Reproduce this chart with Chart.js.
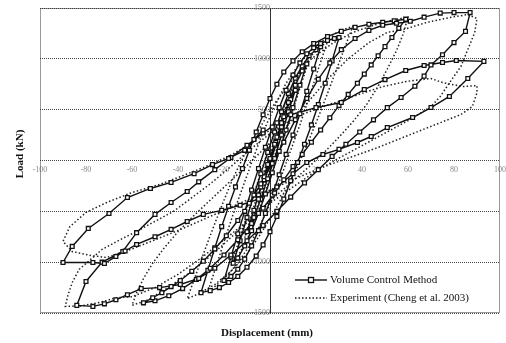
<!DOCTYPE html>
<html>
<head>
<meta charset="utf-8">
<script src="https://cdn.jsdelivr.net/npm/chart.js@4.4.1/dist/chart.umd.min.js"></script>
<style>
  html, body { margin: 0; padding: 0; background: #fff; }
</style>
</head>
<body>
<canvas id="myCanvas" width="506" height="343"></canvas>
<script>
// hysteresis path of the numerical model (Volume Control Method), mm / kN
const vcmDisp = [
  0, 2.5, 5, 2.5, 0, -2.5, -5, -2.5, 0,
  3, 6, 9, 11, 8, 5, 2, -1, -4, -7, -10, -7, -4, -1,
  2, 5, 8, 11, 14, 16, 13, 10, 7, 4, 1, -2, -5, -8, -11, -14, -16, -13, -10, -7, -4,
  -1, 2, 5, 8, 11, 14, 17, 20, 22, 19, 16, 13, 10, 7, 4, 1, -2, -5, -8, -11, -14, -17, -20, -17, -14, -11, -8, -5,
  -2, 1, 4, 7, 10, 13, 16, 19, 22, 25, 28, 30, 27, 24, 21, 18, 15, 12, 9, 6, 3, 0, -3, -6, -10, -14, -18, -22, -26, -30, -27, -24, -21, -18, -15, -12,
  -9, -6, -3, 0, 3, 6, 10, 14, 19, 25, 31, 37, 43, 49, 54, 59,
  56, 53, 50, 47, 44, 41, 38, 34, 30, 26, 22, 18, 14, 10, 6, 2, -3, -8, -14, -20, -26, -32, -38, -44, -50, -55,
  -51, -47, -43, -39, -34, -29, -24, -19, -14, -9, -4, 1, 6, 11, 16, 21, 26, 31, 37, 43, 49, 55, 61, 67, 74, 80, 87,
  85, 80, 75, 70, 67, 63, 57, 51, 45, 39, 33, 27, 21, 15, 9, 3, -3, -10, -17, -24, -31, -39, -48, -56, -62, -67, -72, -77, -84,
  -80, -73, -64, -58, -50, -43, -36, -31, -24, -17, -10, -3, 3, 9, 20, 31, 41, 50, 59, 67, 75, 81, 93,
  86, 78, 70, 62, 51, 44, 38, 30, 23, 16, 10, 3, -5, -13, -21, -29, -36, -43, -50, -58, -63, -67, -72, -77, -90,
  -86, -79, -70, -62, -52, -43, -33, -25, -18, -11, -7, -3
];
const vcmLoad = [
  0, 180, 330, 150, -30, -190, -340, -160, 20,
  230, 430, 600, 690, 480, 250, 20, -180, -380, -560, -700, -490, -260, -40,
  160, 370, 570, 740, 880, 950, 740, 520, 300, 90, -120, -330, -520, -690, -840, -960, -1010, -790, -560, -340, -130,
  80, 280, 480, 660, 810, 930, 1030, 1090, 1120, 900, 680, 460, 250, 60, -140, -340, -520, -690, -840, -970, -1070, -1140, -1180, -950, -720, -500, -290, -80,
  130, 330, 520, 690, 840, 960, 1050, 1110, 1150, 1180, 1200, 1210, 980, 760, 550, 350, 160, -20, -200, -380, -550, -700, -830, -940, -1050, -1140, -1200, -1250, -1280, -1300, -1080, -860, -650, -450, -260, -80,
  100, 280, 450, 610, 750, 870, 980, 1070, 1150, 1220, 1270, 1310, 1340, 1360, 1375, 1390,
  1300, 1210, 1120, 1030, 940, 850, 760, 650, 540, 420, 300, 180, 60, -60, -190, -320, -470, -620, -780, -930, -1060, -1170, -1260, -1330, -1380, -1400,
  -1350, -1300, -1240, -1180, -1090, -990, -870, -740, -590, -420, -230, -30, 180, 400, 610, 800, 960, 1090, 1200, 1280, 1330, 1350, 1370, 1410, 1450, 1455, 1455,
  1270, 1160, 1040, 940, 830, 730, 620, 520, 400, 280, 160, 40, -90, -220, -360, -500, -640, -790, -930, -1060, -1160, -1220, -1250, -1260, -1320, -1370, -1410, -1435, -1425,
  -1190, -1000, -895, -710, -530, -413, -305, -210, -90, 30, 150, 270, 370, 450, 520, 570, 698, 796, 885, 934, 964, 983, 975,
  806, 630, 521, 423, 324, 236, 177, 110, 59, -20, -130, -260, -380, -440, -490, -530, -600, -678, -750, -826, -890, -944, -1013, -1003, -1003,
  -845, -668, -521, -364, -275, -216, -130, -40, 20, 100, 206, 300
];

// test curve (Cheng et al. 2003)
const expDisp = [
  0, 3, 6, 3, 0, -3, -6, -3, 0,
  3, 7, 11, 8, 5, 2, -2, -6, -11, -8, -5, -2,
  2, 6, 10, 14, 17, 14, 10, 6, 2, -2, -6, -10, -14, -17, -14, -10, -6, -2,
  2, 7, 12, 17, 22, 25, 21, 17, 13, 9, 5, 1, -4, -9, -14, -19, -24, -27, -23, -19, -15, -11,
  -7, -3, 2, 7, 13, 19, 25, 31, 36, 32, 28, 24, 20, 16, 12, 7, 2, -4, -10, -17, -24, -31, -36, -32, -28, -24, -20, -16,
  -11, -5, 2, 10, 18, 27, 36, 45, 53, 60, 58, 55, 51, 47, 42, 36, 30, 24, 17, 9, 0, -9, -18, -27, -36, -45, -53, -60,
  -58, -55, -51, -46, -40, -33, -26, -18, -10,
  -2, 7, 16, 25, 34, 43, 51, 58, 68, 78, 86, 90, 89, 86, 83, 79, 74, 70, 63, 55, 46, 37, 28, 19, 10, 0, -10, -20, -30, -40, -50, -60, -67, -74, -82, -89,
  -88, -86, -83, -78, -73, -65, -58, -51, -42, -35, -26, -17, -8, 2, 12, 22, 32, 49, 60, 70, 75, 84, 90,
  90, 88, 83, 75, 66, 56, 46, 36, 26, 16, 6, -5, -16, -27, -38, -50, -60, -71, -78, -86, -90,
  -87, -80, -71, -60, -48, -38, -28, -18, -8, 0
];
const expLoad = [
  0, 220, 400, 190, -20, -230, -400, -170, 40,
  260, 520, 740, 520, 280, 40, -220, -480, -760, -530, -300, -60,
  200, 480, 720, 900, 990, 780, 500, 220, -50, -300, -560, -780, -940, -1040, -820, -540, -260, 20,
  290, 580, 830, 1010, 1120, 1170, 900, 620, 350, 100, -150, -380, -620, -840, -1010, -1140, -1240, -1290, -1010, -730, -460, -210,
  40, 280, 530, 760, 960, 1110, 1210, 1280, 1320, 1080, 840, 600, 370, 150, -60, -280, -500, -720, -920, -1090, -1220, -1310, -1360, -1110, -860, -620, -390, -170,
  60, 300, 560, 800, 1000, 1150, 1260, 1330, 1380, 1410, 1250, 1080, 900, 730, 550, 380, 230, 90, -60, -220, -400, -590, -780, -960, -1120, -1260, -1370, -1425,
  -1300, -1160, -1010, -860, -700, -540, -390, -220, -50,
  130, 330, 560, 800, 1000, 1160, 1260, 1288, 1357, 1406, 1436, 1396, 1258, 1091, 924, 796, 630, 531, 430, 330, 220, 110, 0, -120, -260, -420, -600, -780, -960, -1120, -1250, -1340, -1350, -1396, -1430, -1435,
  -1337, -1200, -1072, -973, -875, -777, -698, -610, -501, -383, -230, -60, 120, 300, 440, 520, 600, 727, 780, 806, 767, 727, 737,
  668, 531, 452, 380, 300, 210, 120, 40, -40, -130, -230, -340, -450, -560, -670, -780, -870, -954, -934, -895, -796,
  -650, -511, -413, -315, -236, -150, -60, 40, 170, 300
];

const xTicks = [-100, -80, -60, -40, -20, 0, 20, 40, 60, 80, 100];
const yTicks = [-1500, -1000, -500, 0, 500, 1000, 1500];

const seriesNames = ['Volume Control Method', 'Experiment (Cheng et al. 2003)'];
const xTitle = 'Displacement (mm)';
const yTitle = 'Load (kN)';

const toPoints = (xs, ys) => xs.map((x, i) => ({ x: x, y: ys[i] }));

// frame, axis titles and the legend in the lower right corner
const extras = {
  id: 'extras',
  beforeDatasetsDraw(chart) {
    const { ctx, chartArea: a } = chart;
    ctx.save();
    ctx.strokeStyle = '#333';
    ctx.lineWidth = 1;
    ctx.setLineDash([1, 1]);
    ctx.strokeRect(a.left + 0.5, a.top + 0.5, a.right - a.left - 1, a.bottom - a.top - 1);
    ctx.restore();
  },
  afterDraw(chart) {
    const { ctx } = chart;
    ctx.save();
    ctx.fillStyle = '#111';
    ctx.font = 'bold 11px "Liberation Serif", serif';
    ctx.textAlign = 'center';
    ctx.textBaseline = 'middle';
    ctx.fillText(xTitle, 267, 333);
    ctx.translate(20, 154);
    ctx.rotate(-Math.PI / 2);
    ctx.fillText(yTitle, 0, 0);
    ctx.restore();

    // legend
    ctx.save();
    const x0 = 295, x1 = 327;
    const rows = [280, 298];
    ctx.strokeStyle = '#111';
    ctx.lineWidth = 1.4;
    ctx.beginPath();
    ctx.moveTo(x0, rows[0]);
    ctx.lineTo(x1, rows[0]);
    ctx.stroke();
    ctx.fillStyle = '#fff';
    ctx.fillRect(308, rows[0] - 3, 6, 6);
    ctx.lineWidth = 1.3;
    ctx.strokeRect(308.5, rows[0] - 2.5, 5, 5);
    ctx.lineWidth = 1.5;
    ctx.setLineDash([1.5, 2]);
    ctx.beginPath();
    ctx.moveTo(x0, rows[1]);
    ctx.lineTo(x1, rows[1]);
    ctx.stroke();
    ctx.setLineDash([]);
    ctx.fillStyle = '#111';
    ctx.font = '11px "Liberation Serif", serif';
    ctx.textAlign = 'left';
    ctx.textBaseline = 'middle';
    ctx.fillText(seriesNames[0], 330, rows[0]);
    ctx.fillText(seriesNames[1], 330, rows[1]);
    ctx.restore();
  }
};

const canvas = document.getElementById('myCanvas');
const ctx = canvas.getContext('2d');

new Chart(ctx, {
  type: 'scatter',
  data: {
    datasets: [
      {
        label: seriesNames[0],
        data: toPoints(vcmDisp, vcmLoad),
        showLine: true,
        borderColor: '#111',
        borderWidth: 1.4,
        pointStyle: 'rect',
        pointRadius: 2.7,
        pointBackgroundColor: '#fff',
        pointBorderColor: '#111',
        pointBorderWidth: 1.3,
        tension: 0
      },
      {
        label: seriesNames[1],
        data: toPoints(expDisp, expLoad),
        showLine: true,
        borderColor: '#222',
        borderWidth: 1.5,
        borderDash: [1.5, 2.2],
        pointRadius: 0,
        tension: 0
      }
    ]
  },
  options: {
    responsive: false,
    animation: false,
    layout: { padding: { left: 40, right: 6, top: 8, bottom: 30 } },
    plugins: {
      legend: { display: false },
      tooltip: { enabled: false }
    },
    scales: {
      x: {
        type: 'linear',
        position: { y: 0 },
        min: -100,
        max: 100,
        afterBuildTicks: (scale) => { scale.ticks = xTicks.map(v => ({ value: v })); },
        ticks: {
          color: '#888',
          font: { size: 8, family: '"Liberation Serif", serif' },
          padding: 0,
          maxRotation: 0,
          callback: (v) => (v === 0 ? '' : v)
        },
        // ticks kept invisible, their length only offsets the labels
        grid: { drawOnChartArea: false, drawTicks: true, tickLength: 5, tickColor: 'rgba(0,0,0,0)' },
        border: { display: false }
      },
      y: {
        type: 'linear',
        position: { x: 0 },
        min: -1500,
        max: 1500,
        afterBuildTicks: (scale) => { scale.ticks = yTicks.map(v => ({ value: v })); },
        ticks: {
          color: '#888',
          font: { size: 8, family: '"Liberation Serif", serif' },
          padding: 0,
          callback: (v) => (v === 0 ? '' : v)
        },
        grid: { color: '#444', lineWidth: 1, drawTicks: true, tickLength: 8, tickColor: 'rgba(0,0,0,0)' },
        border: { display: true, color: '#333', width: 1, dash: [1, 1] }
      }
    }
  },
  plugins: [extras]
});
</script>
</body>
</html>
